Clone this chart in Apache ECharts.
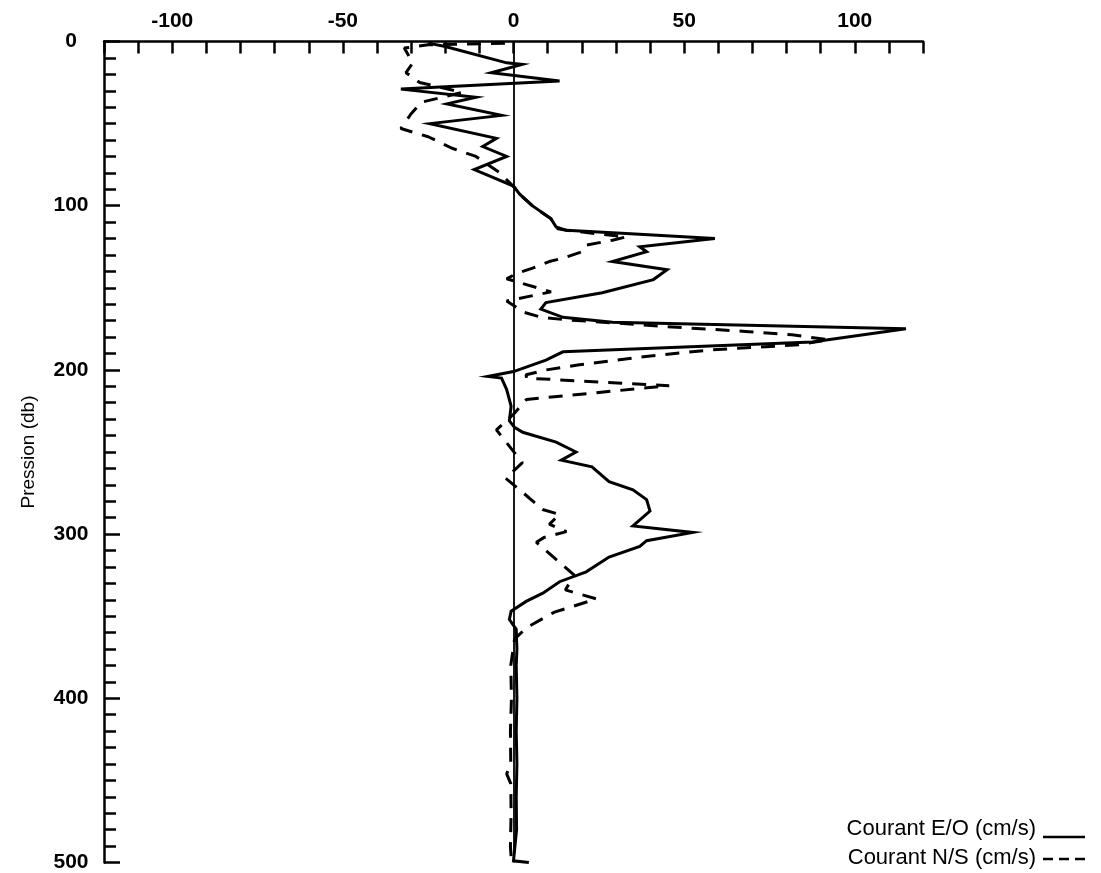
<!DOCTYPE html>
<html>
<head>
<meta charset="utf-8">
<title>Profil de courant</title>
<script src="https://cdn.jsdelivr.net/npm/echarts@6/dist/echarts.min.js"></script>
<style>
  html, body { margin: 0; padding: 0; background: #fff; }
  #chart { width: 1101px; height: 873px; }
</style>
</head>
<body>
<div id="chart"></div>
<script>
// Pression (db) et courant E/O (cm/s)
const pressureEO = [1, 3, 13, 14, 19, 24, 29, 34, 38, 45, 50, 59, 64, 70, 78, 88, 93, 100, 108, 113,
  115, 117, 120, 125, 128, 134, 139, 145, 153, 159, 163, 168, 171, 175, 183, 189, 194, 201, 204, 205,
  212, 222, 231, 235, 238, 244, 250, 255, 259, 268, 273, 279, 286, 295, 299, 304, 307.5, 314, 323, 329,
  336, 341, 347, 352, 358, 370, 380, 400, 420, 440, 460, 480, 499, 500];
const courantEO = [-25, -20, -2, 2.5, -6.5, 13.5, -33, -11, -19.5, -3.5, -24.5, -5, -9, -2, -11.5, 0, 1.8, 5.5, 11, 12.5,
  15.5, 33, 59, 37, 39, 29, 45, 41, 26, 9.5, 8, 14.5, 29, 115, 87.5, 14.5, 9.5, 0, -7.5, -3.5,
  -2, -0.7, -1.2, 0.3, 2.7, 12.5, 18.3, 14, 23, 28, 35, 39, 40, 35, 52.5, 39, 37, 28, 21.3, 13.5,
  8.6, 3.7, -0.7, -1.2, 0.8, 1, 0.8, 1, 0.8, 1, 0.8, 0.9, 0, 4.5];

// Pression (db) et courant N/S (cm/s)
const pressureNS = [1, 2, 4, 13, 19, 25, 31, 37, 44, 53, 58, 65, 70, 80, 89, 93, 100, 108, 113.7, 115,
  119, 121, 124, 128, 132, 134, 138, 141, 144.5, 152.5, 158, 165, 168, 169.5, 170.5, 173.6, 176.6, 178.6, 181.7, 184.7,
  187.8, 191.8, 196.9, 200, 203, 205, 209.6, 218, 227, 236.5, 256.5, 266, 273, 285, 288, 294, 298.5, 302, 305, 325,
  334, 339.5, 347.5, 357, 364, 380, 400, 420, 440, 446, 452, 470, 490, 500];
const courantNS = [-2.5, -25, -32, -29.5, -31.5, -27.5, -15, -27, -30, -33, -25, -18, -11, -4, 0.3, 1.8, 5.5, 11, 12.3, 15.5,
  33, 29, 21.3, 20.2, 14.4, 10.5, 5.6, 1.2, -2, 11, -2, 3.2, 8.2, 15.5, 23, 44.7, 68, 81.6, 92.4, 83.6,
  58, 38.8, 19.3, 9.6, 3.7, 3.8, 45.6, 3.8, 0, -5, 2.6, -2.3, 1.8, 8.5, 13.5, 10.5, 15.5, 9, 6.7, 17.8,
  15.2, 24.3, 12, 3.8, 0.3, -0.8, -0.6, -0.9, -0.8, -2, -0.8, -0.7, -0.9, -0.6];

// Graduations labellisées de l'axe horizontal
const xTickLabels = [-100, -50, 0, 50, 100];

// Légende : libellés des deux profils
const legendLabels = ['Courant E/O (cm/s)', 'Courant N/S (cm/s)'];

const FONT = '"Liberation Sans", Arial, Helvetica, sans-serif';

function pairs(us, ps) {
  return us.map((u, i) => [u, ps[i]]);
}

const chart = echarts.init(document.getElementById('chart'), null, { renderer: 'canvas' });

chart.setOption({
  animation: false,
  backgroundColor: '#fff',
  grid: { left: 104, top: 41.5, right: 178, bottom: 10, containLabel: false },
  xAxis: {
    type: 'value',
    position: 'top',
    min: -120,
    max: 120,
    interval: 10,
    axisLine: { show: true, onZero: false, lineStyle: { color: '#000', width: 2.5 } },
    axisTick: { show: true, inside: true, length: 12, lineStyle: { color: '#000', width: 2.5 } },
    axisLabel: {
      color: '#000', fontFamily: FONT, fontWeight: 'bold', fontSize: 21, margin: 10,
      formatter: v => (xTickLabels.indexOf(v) >= 0 ? String(v) : '')
    },
    splitLine: { show: false }
  },
  yAxis: {
    type: 'value',
    inverse: true,
    min: 0,
    max: 500,
    interval: 100,
    name: 'Pression (db)',
    nameLocation: 'middle',
    nameGap: 66,
    nameRotate: 90,
    nameTextStyle: { color: '#000', fontFamily: FONT, fontSize: 19 },
    axisLine: { show: true, onZero: false, lineStyle: { color: '#000', width: 2.5 } },
    axisTick: { show: true, inside: true, length: 16, lineStyle: { color: '#000', width: 2.5 } },
    minorTick: { show: true, splitNumber: 10, length: 12, lineStyle: { color: '#000', width: 2.5 } },
    axisLabel: {
      color: '#000', fontFamily: FONT, fontWeight: 'bold', fontSize: 21,
      margin: 33, align: 'center'
    },
    splitLine: { show: false },
    minorSplitLine: { show: false }
  },
  graphic: [
    {
      type: 'text', right: 1101 - 1036, top: 818,
      style: { text: legendLabels[0], fill: '#000', font: '22px ' + FONT }
    },
    {
      type: 'line', shape: { x1: 1043, y1: 837, x2: 1085, y2: 837 },
      style: { stroke: '#000', lineWidth: 2.5 }
    },
    {
      type: 'text', right: 1101 - 1036, top: 847,
      style: { text: legendLabels[1], fill: '#000', font: '22px ' + FONT }
    },
    {
      type: 'line', shape: { x1: 1043, y1: 859, x2: 1085, y2: 859 },
      style: { stroke: '#000', lineWidth: 2.5, lineDash: [10, 6] }
    }
  ],
  series: [
    {
      name: legendLabels[0],
      type: 'line',
      data: pairs(courantEO, pressureEO),
      symbol: 'none',
      smooth: false,
      lineStyle: { color: '#000', width: 3, type: 'solid', join: 'miter' },
      itemStyle: { color: '#000' },
      emphasis: { disabled: true },
      markLine: {
        silent: true,
        symbol: 'none',
        label: { show: false },
        lineStyle: { color: '#000', width: 1.8, type: 'solid' },
        data: [{ xAxis: 0 }]
      },
      z: 3
    },
    {
      name: legendLabels[1],
      type: 'line',
      data: pairs(courantNS, pressureNS),
      symbol: 'none',
      smooth: false,
      lineStyle: { color: '#000', width: 3, type: [14, 10] },
      itemStyle: { color: '#000' },
      emphasis: { disabled: true },
      z: 2
    }
  ]
});
</script>
</body>
</html>
